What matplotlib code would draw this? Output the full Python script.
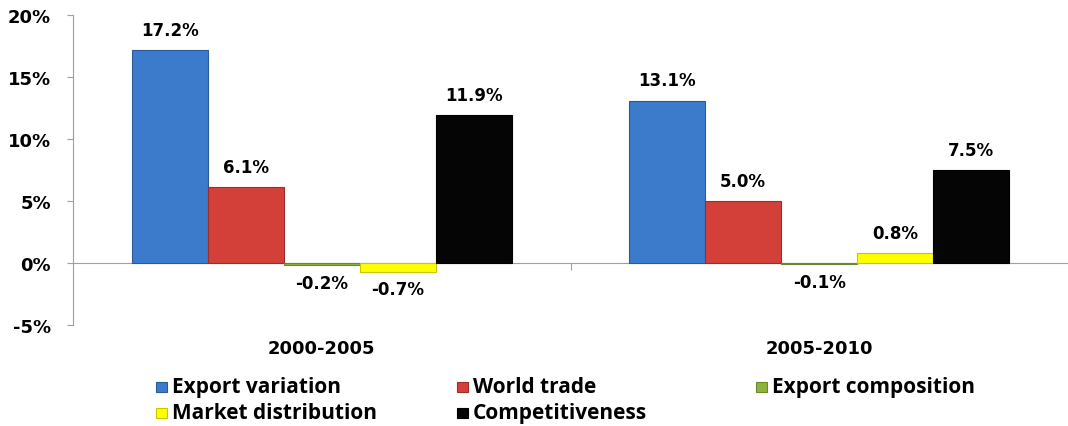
import numpy as np
import matplotlib
matplotlib.use('Agg')
import matplotlib.pyplot as plt
from matplotlib.patches import Rectangle

periods = ['2000-2005', '2005-2010']
series = ['Export variation', 'World trade', 'Export composition',
          'Market distribution', 'Competitiveness']
values = {
    'Export variation': [17.2, 13.1],
    'World trade': [6.1, 5.0],
    'Export composition': [-0.2, -0.1],
    'Market distribution': [-0.7, 0.8],
    'Competitiveness': [11.9, 7.5],
}
colors = ['#3c7acb', '#d3403a', '#8db33d', '#ffff00', '#050505']
edges = ['#2b5a99', '#9e2c28', '#6a8a2a', '#c8c800', '#000000']
yticks = [-5, 0, 5, 10, 15, 20]

W, H = 1068, 427
fig = plt.figure(figsize=(W / 100, H / 100), dpi=100)
ax = fig.add_axes([73 / W, 1 - 326 / H, 995 / W, 310 / H])

x = np.arange(len(periods))
w = 0.1528
for k, name in enumerate(series):
    pos = x + (k - 2) * w
    bars = ax.bar(pos, values[name], w, color=colors[k], edgecolor=edges[k],
                  linewidth=0.8, zorder=3)
    for b, v in zip(bars, values[name]):
        if v >= 0:
            ax.annotate(f'{v:.1f}%', (b.get_x() + w / 2, v), xytext=(0, 8),
                        textcoords='offset points', ha='center', va='bottom',
                        fontsize=12, fontweight='bold', family='DejaVu Sans')
        else:
            ax.annotate(f'{v:.1f}%', (b.get_x() + w / 2, v), xytext=(0, -6),
                        textcoords='offset points', ha='center', va='top',
                        fontsize=12, fontweight='bold', family='DejaVu Sans')

ax.set_xlim(-0.5, len(periods) - 0.5)
ax.set_ylim(-5, 20)
ax.set_yticks(yticks)
ax.set_yticklabels([f'{t}%' for t in yticks], fontsize=13, fontweight='bold')
ax.tick_params(axis='y', length=4, color='#a0a0a0', pad=12)

for s in ['top', 'right']:
    ax.spines[s].set_visible(False)
ax.spines['left'].set_color('#a0a0a0')
ax.spines['bottom'].set_position(('data', 0))
ax.spines['bottom'].set_color('#a0a0a0')
ax.spines['bottom'].set_zorder(2)
ax.set_xticks([0.5])
ax.set_xticklabels([''])
ax.tick_params(axis='x', length=5, color='#a0a0a0', direction='out')

for i, p in enumerate(periods):
    ax.annotate(p, (i, -5), xytext=(0, -10), textcoords='offset points',
                ha='center', va='top', fontsize=13, fontweight='bold')

# legend laid out by hand, three per row
col_x = [156, 457, 756]
row_y = [388, 414]
for k, name in enumerate(series):
    cx = col_x[k % 3]
    cy = row_y[k // 3]
    fig.patches.append(Rectangle((cx / W, 1 - (cy + 5) / H), 11 / W, 10 / H,
                                 transform=fig.transFigure, facecolor=colors[k],
                                 edgecolor=edges[k], linewidth=0.8))
    fig.text((cx + 16) / W, 1 - cy / H, name, ha='left', va='center',
             fontsize=15, fontweight='bold', family='Open Sans')

fig.savefig('out.png', dpi=100)
